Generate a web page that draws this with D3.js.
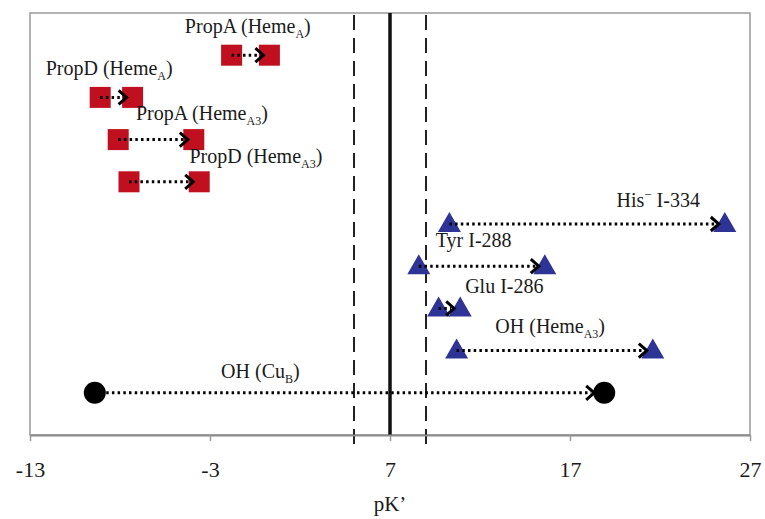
<!DOCTYPE html>
<html>
<head>
<meta charset="utf-8">
<style>
  body { margin: 0; background: #fff; }
  svg text { font-family: "Liberation Serif", "Times New Roman", serif; fill: #1a1a1a; }
</style>
</head>
<body>
<div id="chart"></div>
<script src="https://d3js.org/d3.v7.min.js"></script>
<script>
    // rows from top to bottom
    const groups = ["PropA (Heme_{A})", "PropD (Heme_{A})", "PropA (Heme_{A3})", "PropD (Heme_{A3})",
        "His^{−} I-334", "Tyr I-288", "Glu I-286", "OH (Heme_{A3})", "OH (Cu_{B})"];
    const rowPos = [9, 8, 7, 6, 5, 4, 3, 2, 1];
    const pkFrom = [-1.8, -9.1, -8.1, -7.5, 10.3, 8.6, 9.7, 10.7, -9.4];
    const pkTo = [0.3, -7.3, -3.9, -3.6, 25.6, 15.6, 10.9, 21.6, 18.9];
    const markerType = ["square", "square", "square", "square", "triangle", "triangle", "triangle", "triangle", "circle"];
    // label anchor (centre) in data units
    const labelX = [-0.9, -8.6, -3.45, -0.45, 21.9, 11.65, 13.35, 15.9, -0.2];
    const labelY = [9.52, 8.52, 7.47, 6.45, 5.4, 4.45, 3.37, 2.42, 1.35];

    const xTicks = [-13, -3, 7, 17, 27];
    const refLines = [{ v: 5, dashed: true }, { v: 7, dashed: false }, { v: 9, dashed: true }];

    const svg = d3.select('#chart')
        .append('svg')
        .attr('width', 765)
        .attr('height', 519);

    const margin = { top: 13, right: 15, bottom: 84, left: 30 };
    const width = 765 - margin.left - margin.right;
    const height = 519 - margin.top - margin.bottom;

    const g = svg.append('g')
        .attr('transform', `translate(${margin.left},${margin.top})`);

    const x = d3.scaleLinear().domain([-13, 27]).range([0, width]);
    const y = d3.scaleLinear().domain([0, 10]).range([height, 0]);

    // plot frame
    g.append('rect')
        .attr('x', 0).attr('y', 0)
        .attr('width', width).attr('height', height)
        .attr('fill', 'none')
        .attr('stroke', '#9a9a9a')
        .attr('stroke-width', 1.5);

    // reference lines
    refLines.forEach(r => {
        g.append('line')
            .attr('x1', x(r.v)).attr('x2', x(r.v))
            .attr('y1', r.dashed ? 2 : 0)
            .attr('y2', r.dashed ? height + 10 : height)
            .attr('stroke', r.dashed ? '#222' : '#111')
            .attr('stroke-width', r.dashed ? 2 : 3.5)
            .attr('stroke-dasharray', r.dashed ? '15,8' : null);
    });

    // x axis
    const xAxis = g.append('g')
        .attr('transform', `translate(0,${height})`)
        .call(d3.axisBottom(x).tickValues(xTicks).tickSize(6).tickSizeOuter(0).tickPadding(20).tickFormat(d => String(d)));
    xAxis.select('.domain').attr('stroke', '#8a8a8a').attr('stroke-width', 2);
    xAxis.selectAll('.tick line').attr('stroke', '#9a9a9a').attr('stroke-width', 1.5);
    xAxis.selectAll('.tick text')
        .style('font-family', '"Liberation Serif", serif')
        .style('font-size', '22px')
        .attr('fill', '#1a1a1a');

    svg.append('text')
        .attr('x', margin.left + width / 2)
        .attr('y', 511)
        .attr('text-anchor', 'middle')
        .style('font-size', '21px')
        .text('pK’');

    const squareColor = '#c0101f';
    const triColor = '#2e3495';

    function drawMarker(type, cx, cy) {
        if (type === 'square') {
            g.append('rect')
                .attr('x', cx - 10.5).attr('y', cy - 10.5)
                .attr('width', 21).attr('height', 21)
                .attr('fill', squareColor);
        } else if (type === 'triangle') {
            g.append('path')
                .attr('d', `M${cx},${cy - 12}L${cx + 11.5},${cy + 8}L${cx - 11.5},${cy + 8}Z`)
                .attr('fill', triColor);
        } else {
            g.append('circle')
                .attr('cx', cx).attr('cy', cy).attr('r', 11)
                .attr('fill', '#000');
        }
    }

    groups.forEach((name, i) => {
        const cy = y(rowPos[i]);
        const x0 = x(pkFrom[i]);
        const x1 = x(pkTo[i]);
        drawMarker(markerType[i], x0, cy);
        drawMarker(markerType[i], x1, cy);

        const tip = x1 - (markerType[i] === 'circle' ? 10 : 6);
        g.append('line')
            .attr('x1', x0).attr('x2', tip - 3)
            .attr('y1', cy).attr('y2', cy)
            .attr('stroke', '#000')
            .attr('stroke-width', 3)
            .attr('stroke-dasharray', '2.5,3.2');
        g.append('path')
            .attr('d', `M${tip - 8},${cy - 7}L${tip},${cy}L${tip - 8},${cy + 7}`)
            .attr('fill', 'none')
            .attr('stroke', '#000')
            .attr('stroke-width', 3);

        // label with sub/superscripts
        const t = g.append('text')
            .attr('x', x(labelX[i]))
            .attr('y', y(labelY[i]))
            .attr('dy', '0.35em')
            .attr('text-anchor', 'middle')
            .style('font-size', '20px');
        const parts = name.split(/([_^]\{[^}]*\})/).filter(s => s.length);
        let shift = 0;
        parts.forEach(p => {
            if (p.startsWith('_{')) {
                t.append('tspan').attr('dy', 5).style('font-size', '12px').text(p.slice(2, -1));
                shift = -5;
            } else if (p.startsWith('^{')) {
                t.append('tspan').attr('dy', -8).style('font-size', '13px').text(p.slice(2, -1));
                shift = 8;
            } else {
                t.append('tspan').attr('dy', shift).text(p);
                shift = 0;
            }
        });
    });
</script>
</body>
</html>
